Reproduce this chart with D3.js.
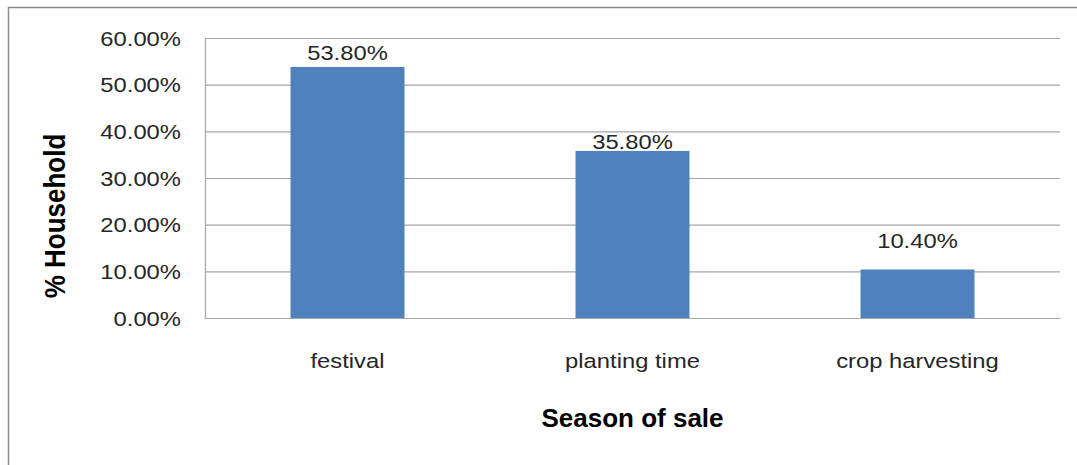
<!DOCTYPE html>
<html>
<head>
<meta charset="utf-8">
<script src="https://cdn.jsdelivr.net/npm/d3@7/dist/d3.min.js"></script>
<style>
  html, body { margin: 0; padding: 0; background: #ffffff; }
  svg { display: block; }
</style>
</head>
<body>
<svg id="chart" width="1077" height="465"></svg>
<script>
// ---- data ----
const categories = ["festival", "planting time", "crop harvesting"];
const values = [53.8, 35.8, 10.4];
const yTicks = [0, 10, 20, 30, 40, 50, 60];
const yTitle = "% Household";
const xTitle = "Season of sale";

// ---- layout / style ----
const W = 1077, H = 465;
const plot = { left: 205, right: 1060, top: 38, bottom: 318 };
const labelNudge = [7, 2, 21];   // manual label offsets above bar tops (px)
const textStretch = 1.22;
const barColor = "#4F81BD";
const gridColor = "#a6a6a6";
const textColor = "#262626";
const font = "'Liberation Sans', Arial, sans-serif";

const svg = d3.select("#chart");

// outer chart border
svg.append("rect")
  .attr("x", 8.5).attr("y", 7.5)
  .attr("width", W + 20).attr("height", H + 20)
  .attr("fill", "none").attr("stroke", "#8c8c8c").attr("stroke-width", 1.5);

const x = d3.scaleBand()
  .domain(categories)
  .range([plot.left, plot.right])
  .paddingInner(0.6)
  .paddingOuter(0.3);

const y = d3.scaleLinear()
  .domain([0, 60])
  .range([plot.bottom, plot.top]);

// gridlines + y axis
const yAxis = d3.axisLeft(y)
  .tickValues(yTicks)
  .tickSize(-(plot.right - plot.left))
  .tickPadding(0)
  .tickFormat(d => d3.format(".2f")(d) + "%");

const gy = svg.append("g")
  .attr("transform", `translate(${plot.left},0)`)
  .call(yAxis);
gy.select(".domain").attr("stroke", gridColor).attr("stroke-width", 1.2);
gy.selectAll(".tick line").attr("stroke", gridColor).attr("stroke-width", 1.2);
gy.selectAll(".tick text")
  .attr("x", -24 / textStretch)
  .attr("dy", "0.36em")
  .attr("transform", `scale(${textStretch},1)`)
  .attr("fill", textColor)
  .style("font-family", font)
  .style("font-size", "19.5px");

// bars
svg.append("g").selectAll("rect")
  .data(values)
  .join("rect")
  .attr("x", (d, i) => x(categories[i]))
  .attr("y", d => y(d))
  .attr("width", x.bandwidth())
  .attr("height", d => y(0) - y(d))
  .attr("fill", barColor);

// data labels
svg.append("g").selectAll("text")
  .data(values)
  .join("text")
  .attr("transform", (d, i) =>
    `translate(${x(categories[i]) + x.bandwidth() / 2},${y(d) - labelNudge[i]}) scale(${textStretch},1)`)
  .attr("text-anchor", "middle")
  .attr("fill", textColor)
  .style("font-family", font)
  .style("font-size", "19.5px")
  .text(d => d3.format(".2f")(d) + "%");

// x axis (categories)
const xAxis = d3.axisBottom(x).tickSize(0).tickPadding(0);
const gx = svg.append("g")
  .attr("transform", `translate(0,${plot.bottom})`)
  .call(xAxis);
gx.select(".domain").attr("stroke", gridColor).attr("stroke-width", 1.2);
gx.selectAll(".tick text")
  .attr("y", 50)
  .attr("dy", 0)
  .attr("transform", `scale(${textStretch},1)`)
  .attr("fill", textColor)
  .style("font-family", font)
  .style("font-size", "19.5px");

// axis titles
svg.append("text")
  .attr("transform", `translate(${(plot.left + plot.right) / 2},427)`)
  .attr("text-anchor", "middle")
  .attr("fill", "#000")
  .style("font-family", font)
  .style("font-weight", "bold")
  .style("font-size", "26px")
  .text(xTitle);

svg.append("text")
  .attr("transform", `translate(65,${(plot.top + plot.bottom) / 2 + 38}) scale(1.1,1) rotate(-90)`)
  .attr("text-anchor", "middle")
  .attr("fill", "#000")
  .style("font-family", font)
  .style("font-weight", "bold")
  .style("font-size", "26px")
  .text(yTitle);
</script>
</body>
</html>
